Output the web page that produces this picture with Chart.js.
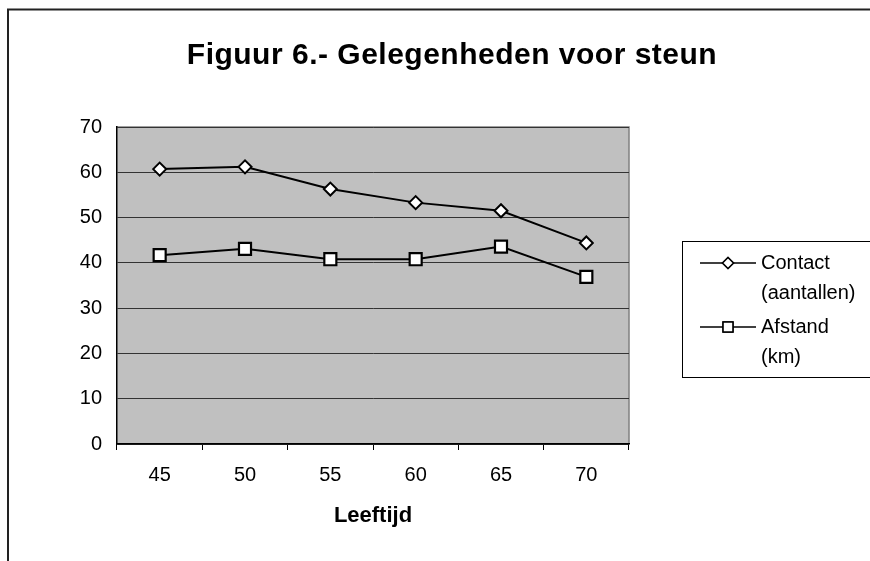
<!DOCTYPE html>
<html><head><meta charset="utf-8">
<script src="https://cdn.jsdelivr.net/npm/chart.js@4/dist/chart.umd.min.js"></script>
<style>html,body{margin:0;padding:0;background:#fff;overflow:hidden}</style>
</head><body>
<canvas id="c" width="870" height="561" style="display:block;width:870px;height:561px"></canvas>
<script>
const titleText = 'Figuur 6.- Gelegenheden voor steun';
const xAxisTitle = 'Leeftijd';
const categories = ['45', '50', '55', '60', '65', '70'];
const contactValues = [60.7, 61.2, 56.3, 53.3, 51.5, 44.4];
const afstandValues = [41.7, 43.1, 40.8, 40.8, 43.6, 36.9];
const contactLabel = ['Contact', '(aantallen)'];
const afstandLabel = ['Afstand', '(km)'];
const yTickValues = [0, 10, 20, 30, 40, 50, 60, 70];

const FONT = "'Liberation Sans', Arial, Helvetica, sans-serif";

const plotBg = {
  id: 'plotBg',
  beforeDraw(chart) {
    const {ctx, chartArea: a} = chart;
    ctx.save();
    ctx.fillStyle = '#c0c0c0';
    ctx.fillRect(a.left, a.top, a.right - a.left, a.bottom - a.top);
    ctx.strokeStyle = '#808080';
    ctx.lineWidth = 1.5;
    ctx.beginPath();
    ctx.moveTo(a.left, a.top);
    ctx.lineTo(a.right, a.top);
    ctx.lineTo(a.right, a.bottom);
    ctx.stroke();
    ctx.restore();
  }
};

const frameAndTitle = {
  id: 'frameAndTitle',
  afterDraw(chart) {
    const ctx = chart.ctx;
    ctx.save();
    ctx.strokeStyle = '#222';
    ctx.lineWidth = 2;
    ctx.beginPath();
    ctx.moveTo(8, 562);
    ctx.lineTo(8, 9.5);
    ctx.lineTo(872, 9.5);
    ctx.stroke();
    ctx.fillStyle = '#000';
    ctx.font = 'bold 30px ' + FONT;
    try { ctx.letterSpacing = '0.5px'; } catch (e) {}
    ctx.textAlign = 'center';
    ctx.textBaseline = 'middle';
    ctx.fillText(titleText, 452, 56);
    ctx.restore();
  }
};

const customLegend = {
  id: 'customLegend',
  afterDraw(chart) {
    const ctx = chart.ctx;
    ctx.save();
    ctx.strokeStyle = '#000';
    ctx.lineWidth = 1;
    ctx.strokeRect(682.5, 241.5, 200, 136);
    const labels = [contactLabel, afstandLabel];
    chart.data.datasets.forEach((ds, i) => {
      const y = 263 + i * 64;
      ctx.strokeStyle = '#000';
      ctx.lineWidth = 1.5;
      ctx.beginPath();
      ctx.moveTo(700, y);
      ctx.lineTo(756, y);
      ctx.stroke();
      Chart.helpers.drawPoint(ctx, {
        pointStyle: ds.pointStyle,
        radius: ds.pointStyle === 'rect' ? 7 : 5.5,
        borderWidth: 1.5,
        rotation: 0
      }, 728, y);
      ctx.fillStyle = '#fff';
      ctx.strokeStyle = '#000';
      ctx.fill();
      ctx.stroke();
      ctx.fillStyle = '#000';
      ctx.font = '20px ' + FONT;
      ctx.textAlign = 'left';
      ctx.textBaseline = 'middle';
      labels[i].forEach((t, j) => ctx.fillText(t, 761, y + j * 30));
    });
    ctx.restore();
  }
};

new Chart(document.getElementById('c'), {
  type: 'line',
  data: {
    labels: categories,
    datasets: [
      {
        label: contactLabel.join(' '),
        data: contactValues,
        borderColor: '#000',
        borderWidth: 2,
        pointStyle: 'rectRot',
        pointRadius: 6.5,
        pointBorderWidth: 2,
        pointBackgroundColor: '#fff',
        pointBorderColor: '#000',
        tension: 0
      },
      {
        label: afstandLabel.join(' '),
        data: afstandValues,
        borderColor: '#000',
        borderWidth: 2,
        pointStyle: 'rect',
        pointRadius: 8.5,
        pointBorderWidth: 2.2,
        pointBackgroundColor: '#fff',
        pointBorderColor: '#000',
        tension: 0
      }
    ]
  },
  options: {
    responsive: false,
    animation: false,
    devicePixelRatio: 1,
    layout: { padding: { top: 127, right: 241, bottom: 0, left: 0 } },
    plugins: {
      legend: { display: false },
      title: { display: false },
      tooltip: { enabled: false }
    },
    scales: {
      x: {
        offset: true,
        afterFit(scale) { scale.height = 117; },
        grid: { offset: true, drawOnChartArea: false, drawTicks: true, tickLength: 6, color: '#000', lineWidth: 1 },
        border: { display: true, color: '#000', width: 1.5 },
        ticks: { color: '#000', font: { family: FONT, size: 20 }, padding: 13, maxRotation: 0 },
        title: { display: true, text: xAxisTitle, color: '#000', font: { family: FONT, size: 22, weight: 'bold' }, padding: { top: 4, bottom: 32 } }
      },
      y: {
        min: 0,
        max: 70,
        afterBuildTicks(scale) { scale.ticks = yTickValues.map(v => ({ value: v })); },
        afterFit(scale) { scale.width = 117; },
        grid: { color: '#333333', lineWidth: 1, drawTicks: false },
        border: { display: true, color: '#000', width: 1.5 },
        ticks: { color: '#000', font: { family: FONT, size: 20 }, padding: 15 }
      }
    }
  },
  plugins: [plotBg, frameAndTitle, customLegend]
});
</script>
</body></html>
